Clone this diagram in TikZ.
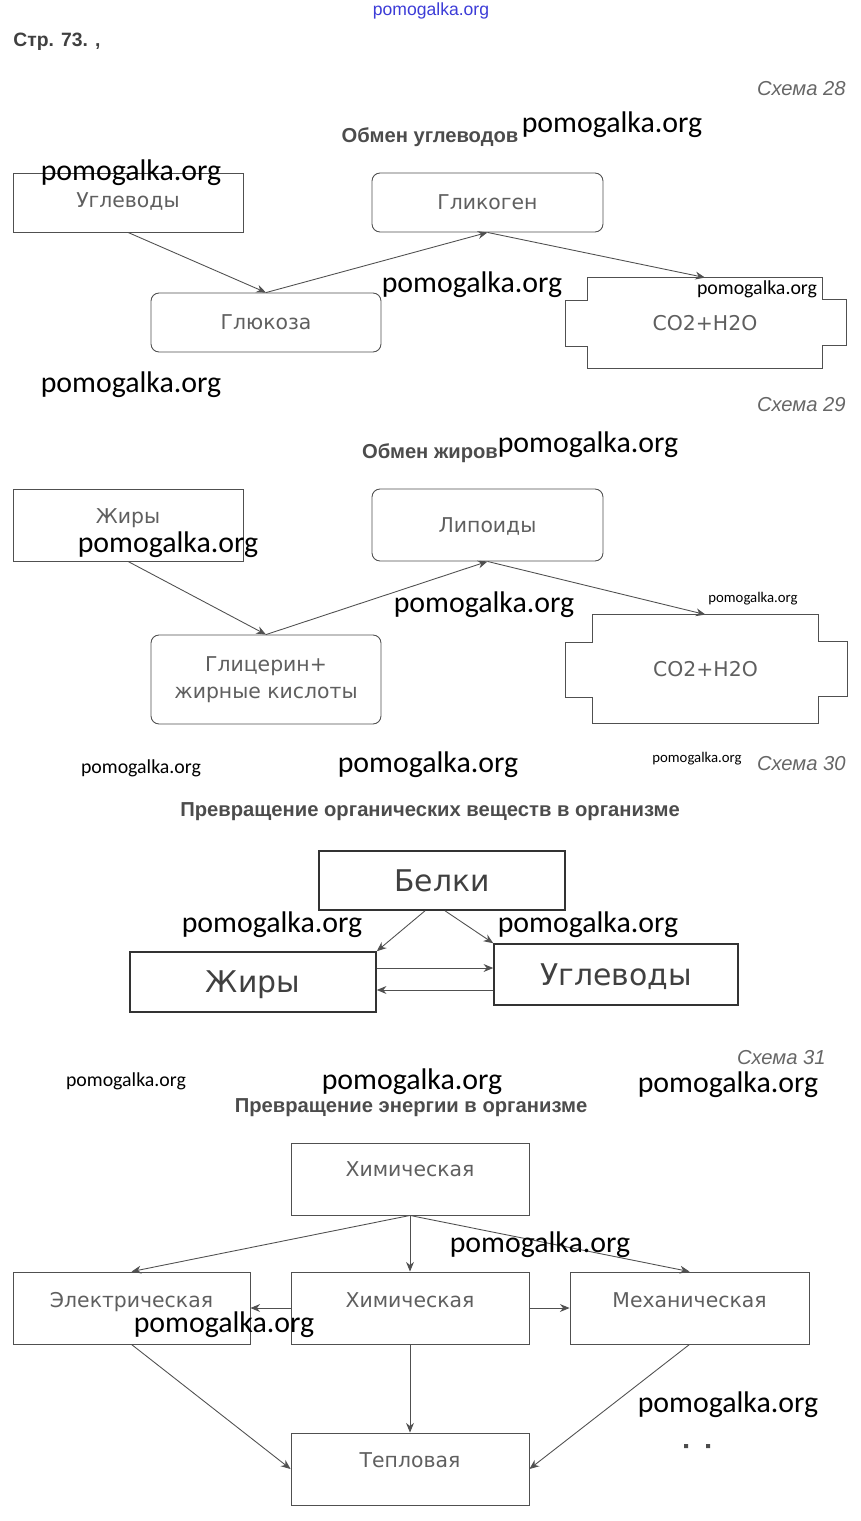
\documentclass[tikz,border=0pt]{standalone}
\usepackage{fontspec}
\setmainfont{Liberation Sans}
\newfontfamily\boxfont{DejaVu Sans}
\newfontfamily\wmfont{Carlito}
\usetikzlibrary{arrows.meta}
\definecolor{lineg}{RGB}{80,80,80}
\definecolor{textg}{RGB}{95,95,95}
\definecolor{siteblue}{RGB}{60,60,215}
\tikzset{
  frame/.style={draw=lineg, line width=0.5pt, text=textg, inner sep=0pt, font=\boxfont\fontsize{11.6}{15.3}\selectfont},
  rframe/.style={frame, rounded corners=0.16cm},
  bigframe/.style={frame, draw=black!80, line width=0.9pt, text=black!75, font=\boxfont\fontsize{17}{20}\selectfont, text height=12.5pt, text depth=0pt},
  txt/.style={text height=8.5pt, text depth=#1}, txt/.default=0pt,
  wm/.style={font=\wmfont\fontsize{17}{17}\selectfont, inner sep=0pt},
  wms/.style={font=\wmfont\fontsize{11.3}{12}\selectfont, inner sep=0pt},
  wmt/.style={font=\wmfont\fontsize{8.4}{9}\selectfont, inner sep=0pt},
  schema/.style={font=\itshape\fontsize{11.5}{12}\selectfont, text=black!60, anchor=east, inner sep=0pt},
  title/.style={font=\bfseries\fontsize{11.5}{12}\selectfont, text=black!70, inner sep=0pt},
  link/.style={->, draw=lineg, line width=0.5pt},
}
\begin{document}
\begin{tikzpicture}[x=0.02cm, y=-0.02cm, >={Stealth[length=5.5pt,width=4.5pt]}]
\useasboundingbox (0,0) rectangle (860,1521);
% шапка
\node[font=\fontsize{10}{11}\selectfont, text=siteblue, inner sep=0pt] (site) at (431,11) {pomogalka.org};
\node[font=\bfseries\fontsize{11}{12}\selectfont, text=black!75, anchor=west, inner sep=0pt] (page) at (13,42) {Стр. 73. ,};

% Схема 28
\node[schema] (s28) at (846,89) {Схема 28};
\node[title] (t28) at (430,137) {Обмен углеводов};
\node[frame, txt=2.8pt, minimum width=4.6cm, minimum height=1.18cm] (ugl) at (128,202.5) {Углеводы};
\node[rframe, txt, minimum width=4.62cm, minimum height=1.18cm] (glik) at (487.5,202.5) {Гликоген};
\node[rframe, txt, minimum width=4.6cm, minimum height=1.18cm] (gluk) at (266,322.5) {Глюкоза};
\node[frame, draw=none, txt, minimum width=4.68cm, minimum height=1.8cm] (co2a) at (705,323) {CO2+H2O};
\draw[lineg, line width=0.5pt] (co2a.north west) -- (co2a.north east) -- ++(0,22) -- ++(24,0) -- ++(0,46) -- ++(-24,0)
  -- (co2a.south east) -- (co2a.south west) -- ++(0,-22) -- ++(-22,0) -- ++(0,-46) -- ++(22,0) -- cycle;
\draw[link] (ugl.south) -- (gluk.north);
\draw[link] (gluk.north) -- (glik.south);
\draw[link] (glik.south) -- (co2a.north);

% Схема 29
\node[schema] (s29) at (846,405) {Схема 29};
\node[title] (t29) at (430,453) {Обмен жиров};
\node[frame, txt=10pt, minimum width=4.6cm, minimum height=1.44cm] (zh) at (128,525) {Жиры};
\node[rframe, txt, minimum width=4.62cm, minimum height=1.44cm] (lip) at (487.5,525) {Липоиды};
\node[rframe, align=center, minimum width=4.6cm, minimum height=1.78cm] (glic) at (266,679.5) {Глицерин+\\жирные кислоты};
\node[frame, draw=none, txt, minimum width=4.5cm, minimum height=2.16cm] (co2b) at (705.5,669) {CO2+H2O};
\draw[lineg, line width=0.5pt] (co2b.north west) -- (co2b.north east) -- ++(0,27) -- ++(29,0) -- ++(0,55) -- ++(-29,0)
  -- (co2b.south east) -- (co2b.south west) -- ++(0,-26) -- ++(-27,0) -- ++(0,-55) -- ++(27,0) -- cycle;
\draw[link] (zh.south) -- (glic.north);
\draw[link] (glic.north) -- (lip.south);
\draw[link] (lip.south) -- (co2b.north);

% Схема 30
\node[schema] (s30) at (846,764) {Схема 30};
\node[title] (t30) at (430,812) {Превращение органических веществ в организме};
\node[bigframe, minimum width=4.92cm, minimum height=1.18cm] (belki) at (442,880.5) {Белки};
\node[bigframe, minimum width=4.92cm, minimum height=1.2cm] (zhir) at (253,982) {Жиры};
\node[bigframe, minimum width=4.88cm, minimum height=1.22cm] (ugle) at (616,974.5) {Углеводы};
\draw[link] ([xshift=-0.34cm]belki.south) -- (zhir.north east);
\draw[link] ([xshift=0.06cm]belki.south) -- (ugle.north west);
\coordinate (zu) at ([yshift=0.28cm]zhir.east);
\coordinate (zd) at ([yshift=-0.16cm]zhir.east);
\draw[link] (zu) -- (zu -| ugle.west);
\draw[link] (zd -| ugle.west) -- (zd);

% Схема 31
\node[schema] (s31) at (826,1058) {Схема 31};
\node[title] (t31) at (411,1108) {Превращение энергии в организме};
\node[frame, txt=11pt, minimum width=4.76cm, minimum height=1.44cm] (chem) at (410,1179) {Химическая};
\node[frame, txt=9pt, minimum width=4.74cm, minimum height=1.44cm] (elec) at (131.5,1308) {Электрическая};
\node[frame, txt=9pt, minimum width=4.76cm, minimum height=1.44cm] (chem2) at (410,1308) {Химическая};
\node[frame, txt=9pt, minimum width=4.78cm, minimum height=1.44cm] (mech) at (689.5,1308) {Механическая};
\node[frame, txt=10pt, minimum width=4.76cm, minimum height=1.44cm] (heat) at (410,1469) {Тепловая};
\draw[link] (chem.south) -- (elec.north);
\draw[link] (chem.south) -- (chem2.north);
\draw[link] (chem.south) -- (mech.north);
\draw[link] (chem2.west) -- (elec.east);
\draw[link] (chem2.east) -- (mech.west);
\draw[link] (elec.south) -- (heat.west);
\draw[link] (chem2.south) -- (heat.north);
\draw[link] (mech.south) -- (heat.east);
\fill[black!70] (684,1444) rectangle (688,1448) (706,1444) rectangle (710,1448);

% водяные знаки
\foreach \p [count=\i] in {(612,125),(131,173),(472,285),(131,385),(588,445),(168,545),(484,605),(428,765),
  (272,925),(588,925),(412,1082),(728,1085),(540,1245),(224,1325),(728,1405)}
  \node[wm] (wm\i) at \p {pomogalka.org};
\foreach \p [count=\i] in {(757,289),(141,768),(126,1081)}
  \node[wms] (wms\i) at \p {pomogalka.org};
\foreach \p [count=\i] in {(753,599),(697,759)}
  \node[wmt] (wmt\i) at \p {pomogalka.org};
\end{tikzpicture}
\end{document}
